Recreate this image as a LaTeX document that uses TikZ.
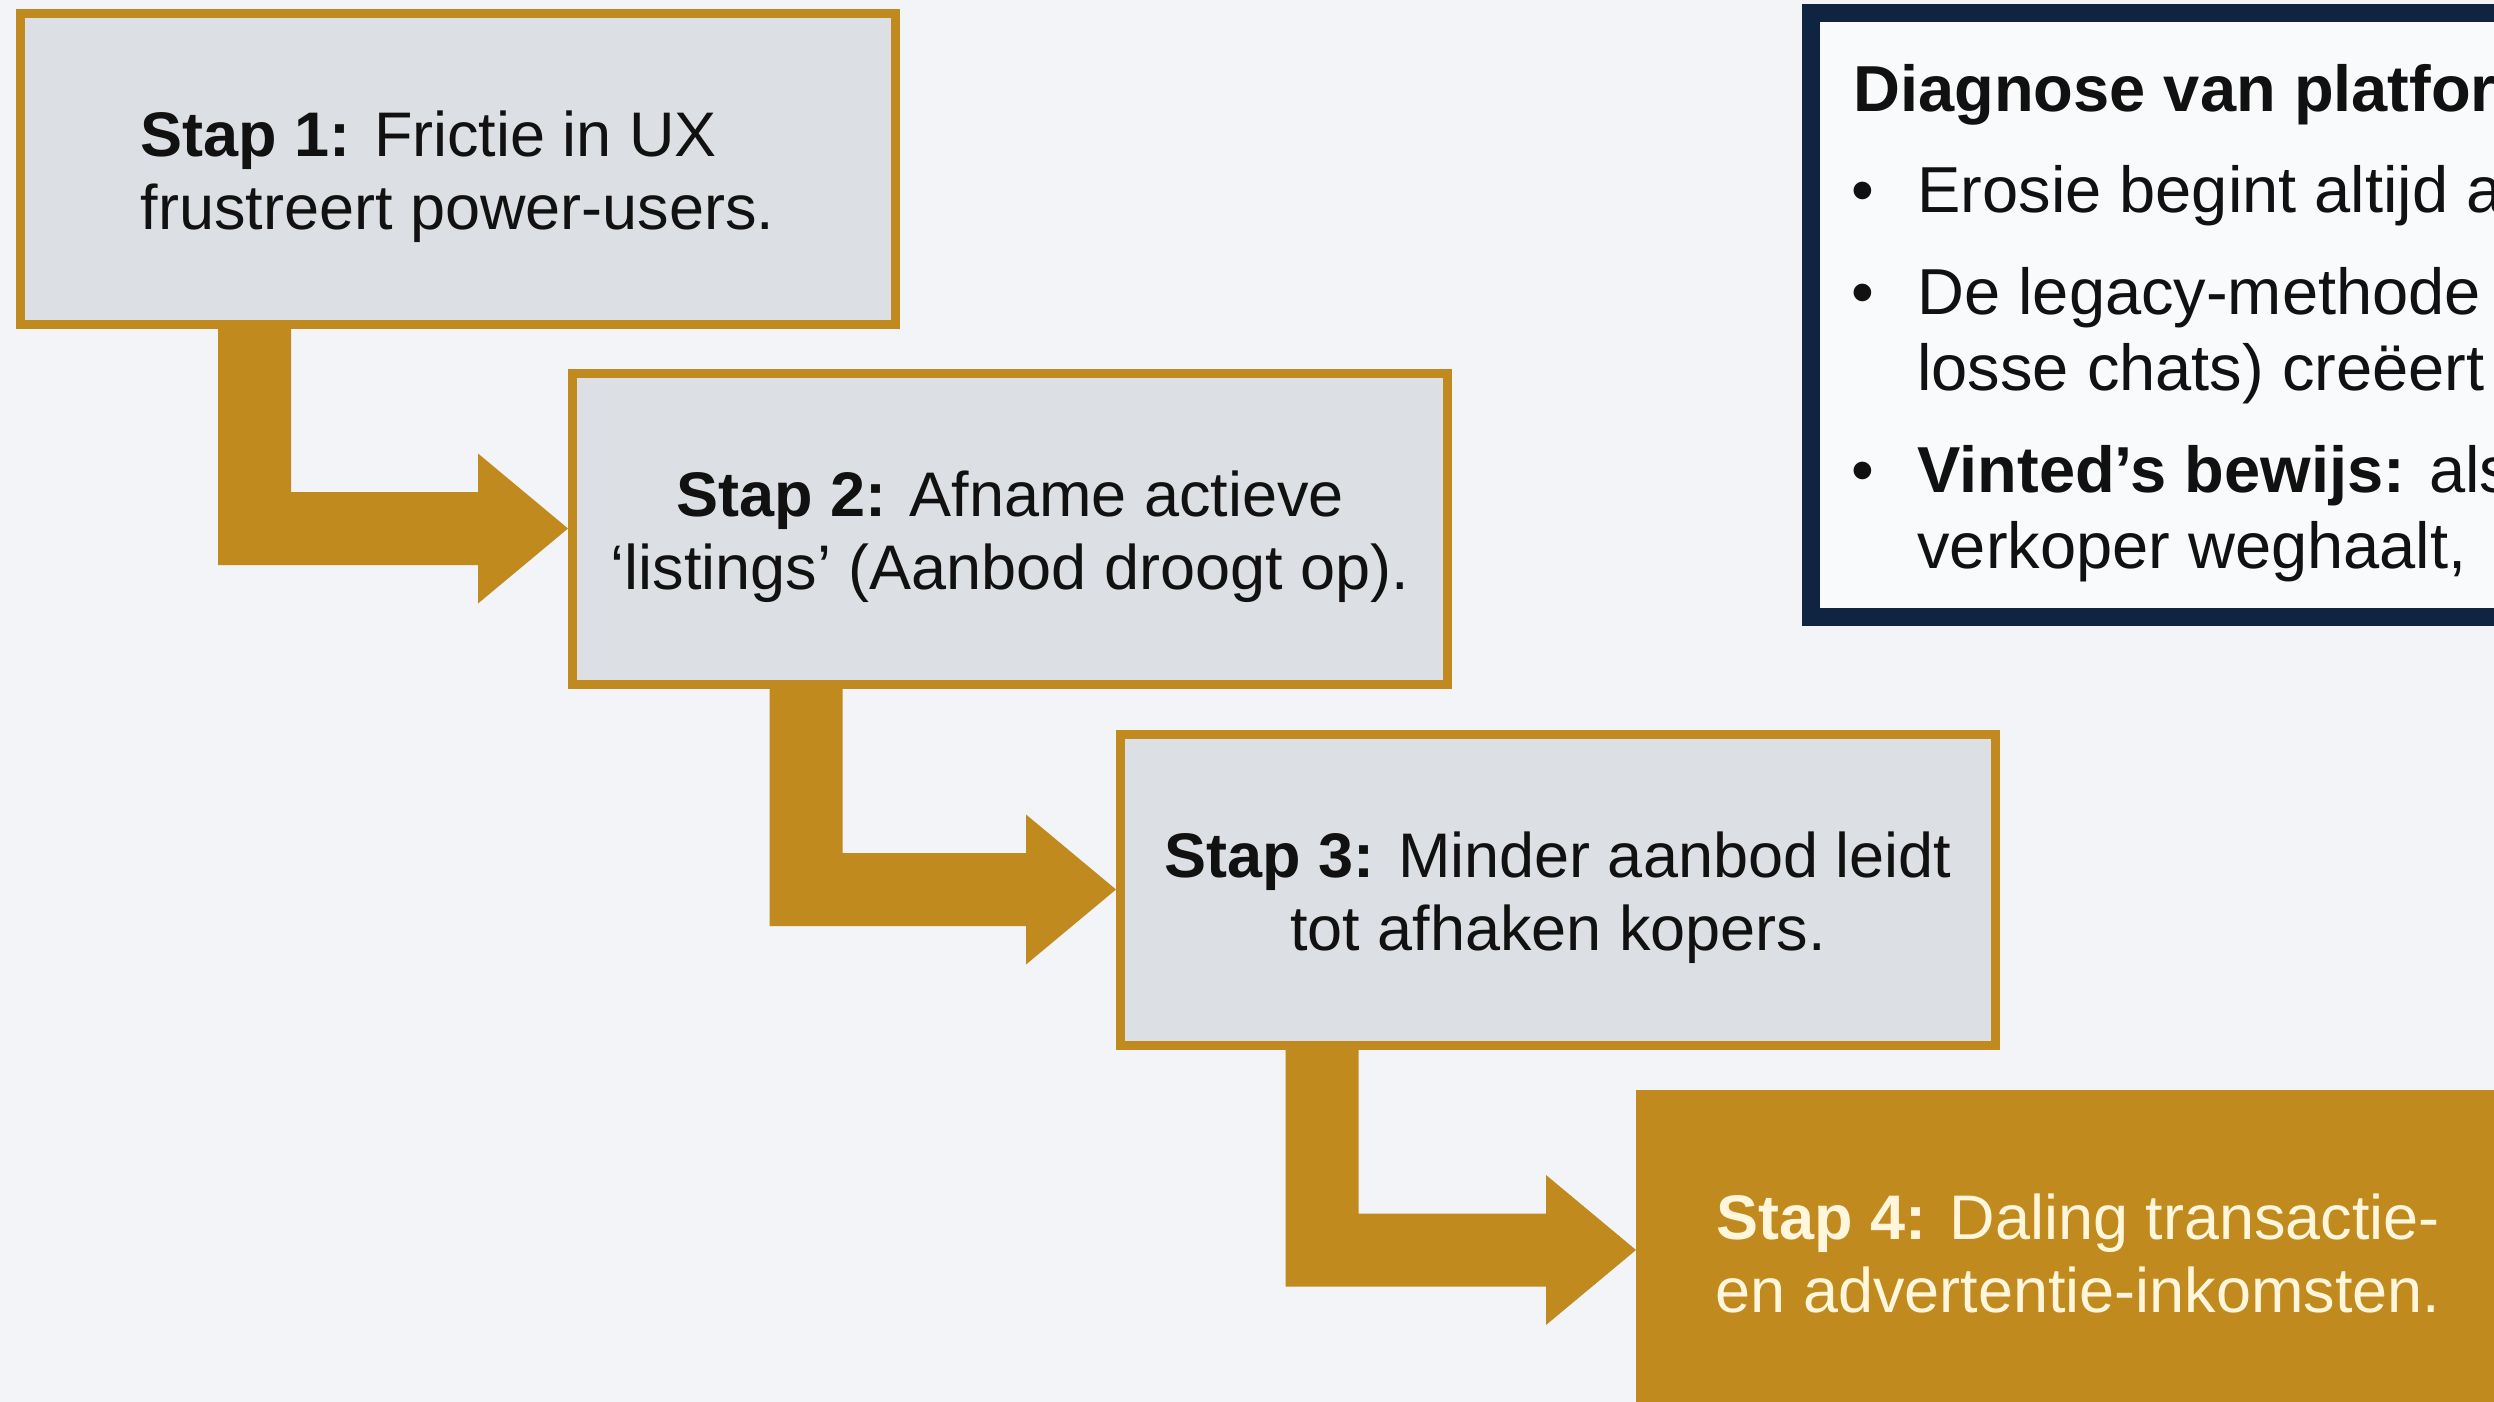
\documentclass[tikz,border=0pt]{standalone}
\usepackage{fontspec}
\setmainfont{Liberation Sans}
\usetikzlibrary{calc}
\definecolor{gold}{HTML}{C08A1E}
\definecolor{navy}{HTML}{0E2440}
\definecolor{bgc}{HTML}{F2F4F7}
\definecolor{boxgrey}{HTML}{DCDFE3}
\definecolor{cream}{HTML}{FFF6DC}
\definecolor{ink}{HTML}{111111}

% elbow arrow: from node #1 (bottom, offset #3 px from its west edge) to node #2 (west anchor)
\newcommand\elbowarrow[3]{%
  \fill[gold] let \p1=(#1.south west), \p2=(#2.west), \n1={\x1+#3*0.5pt} in
    ({\n1-18.25pt},\y1) -- ({\n1+18.25pt},\y1) -- ({\n1+18.25pt},{\y2+18.25pt})
    -- ({\x2-45pt},{\y2+18.25pt}) -- ({\x2-45pt},{\y2+37.5pt}) -- (\x2,\y2)
    -- ({\x2-45pt},{\y2-37.5pt}) -- ({\x2-45pt},{\y2-18.25pt})
    -- ({\n1-18.25pt},{\y2-18.25pt}) -- cycle;}

\tikzset{
  stepbox/.style={draw=gold, line width=4.5pt, fill=boxgrey, minimum width=437.5pt,
    minimum height=155.5pt, inner sep=0pt},
  laststep/.style={stepbox, fill=gold},
  steptext/.style={inner sep=0pt, text=ink,
    font=\fontsize{31.5pt}{36.5pt}\selectfont},
  lasttext/.style={steptext, text=cream},
  infotext/.style={anchor=base west, inner sep=0pt, text=ink,
    font=\fontsize{32.5pt}{37.5pt}\selectfont},
}

\begin{document}
\begin{tikzpicture}[x=0.5pt, y=-0.5pt]
\useasboundingbox (0,0) rectangle (2494,1402);
\clip (0,0) rectangle (2494,1402);
\fill[bgc] (0,0) rectangle (2494,1402);

% step boxes
\node[stepbox] (s1) at (457.5,169) {};
\node[stepbox] (s2) at (1010,528.5) {};
\node[stepbox] (s3) at (1558,889.5) {};
\node[laststep] (s4) at (2078,1250) {};

\node[steptext, align=left] (s1t) at ($(s1.center)+(0,8)$) {\textbf{Stap 1:} Frictie in UX\\frustreert power-users.};
\node[steptext, align=center] (s2t) at ($(s2.center)+(0,8)$) {\textbf{Stap 2:} Afname actieve\\‘listings’ (Aanbod droogt op).};
\node[steptext, align=center] (s3t) at ($(s3.center)+(0,8)$) {\textbf{Stap 3:} Minder aanbod leidt\\tot afhaken kopers.};
\node[lasttext, align=center] (s4t) at ($(s4.center)+(0,3)$) {\textbf{Stap 4:} Daling transactie-\\en advertentie-inkomsten.};

% elbow connectors
\elbowarrow{s1}{s2}{239}
\elbowarrow{s2}{s3}{238}
\elbowarrow{s3}{s4}{206}

% diagnosis panel
\node[draw=navy, line width=9pt, fill=bgc!50!white, minimum width=400pt,
  minimum height=302pt, anchor=north west, inner sep=0pt] (diag) at (1802,4) {};
\node[infotext, font=\fontsize{32.5pt}{37.5pt}\selectfont\bfseries] (t0) at (1853,112) {Diagnose van platfor};
\node[infotext] (b1) at (1851,212) {•};
\node[infotext] (l1) at (1917,212) {Erosie begint altijd a};
\node[infotext] (b2) at (1851,314) {•};
\node[infotext] (l2) at (1917,314) {De legacy-methode};
\node[infotext] (l3) at (1917,390) {losse chats) creëert};
\node[infotext] (b3) at (1851,492) {•};
\node[infotext] (l4) at (1917,492) {\textbf{Vinted’s bewijs:} als};
\node[infotext] (l5) at (1917,568) {verkoper weghaalt,};
\end{tikzpicture}
\end{document}
